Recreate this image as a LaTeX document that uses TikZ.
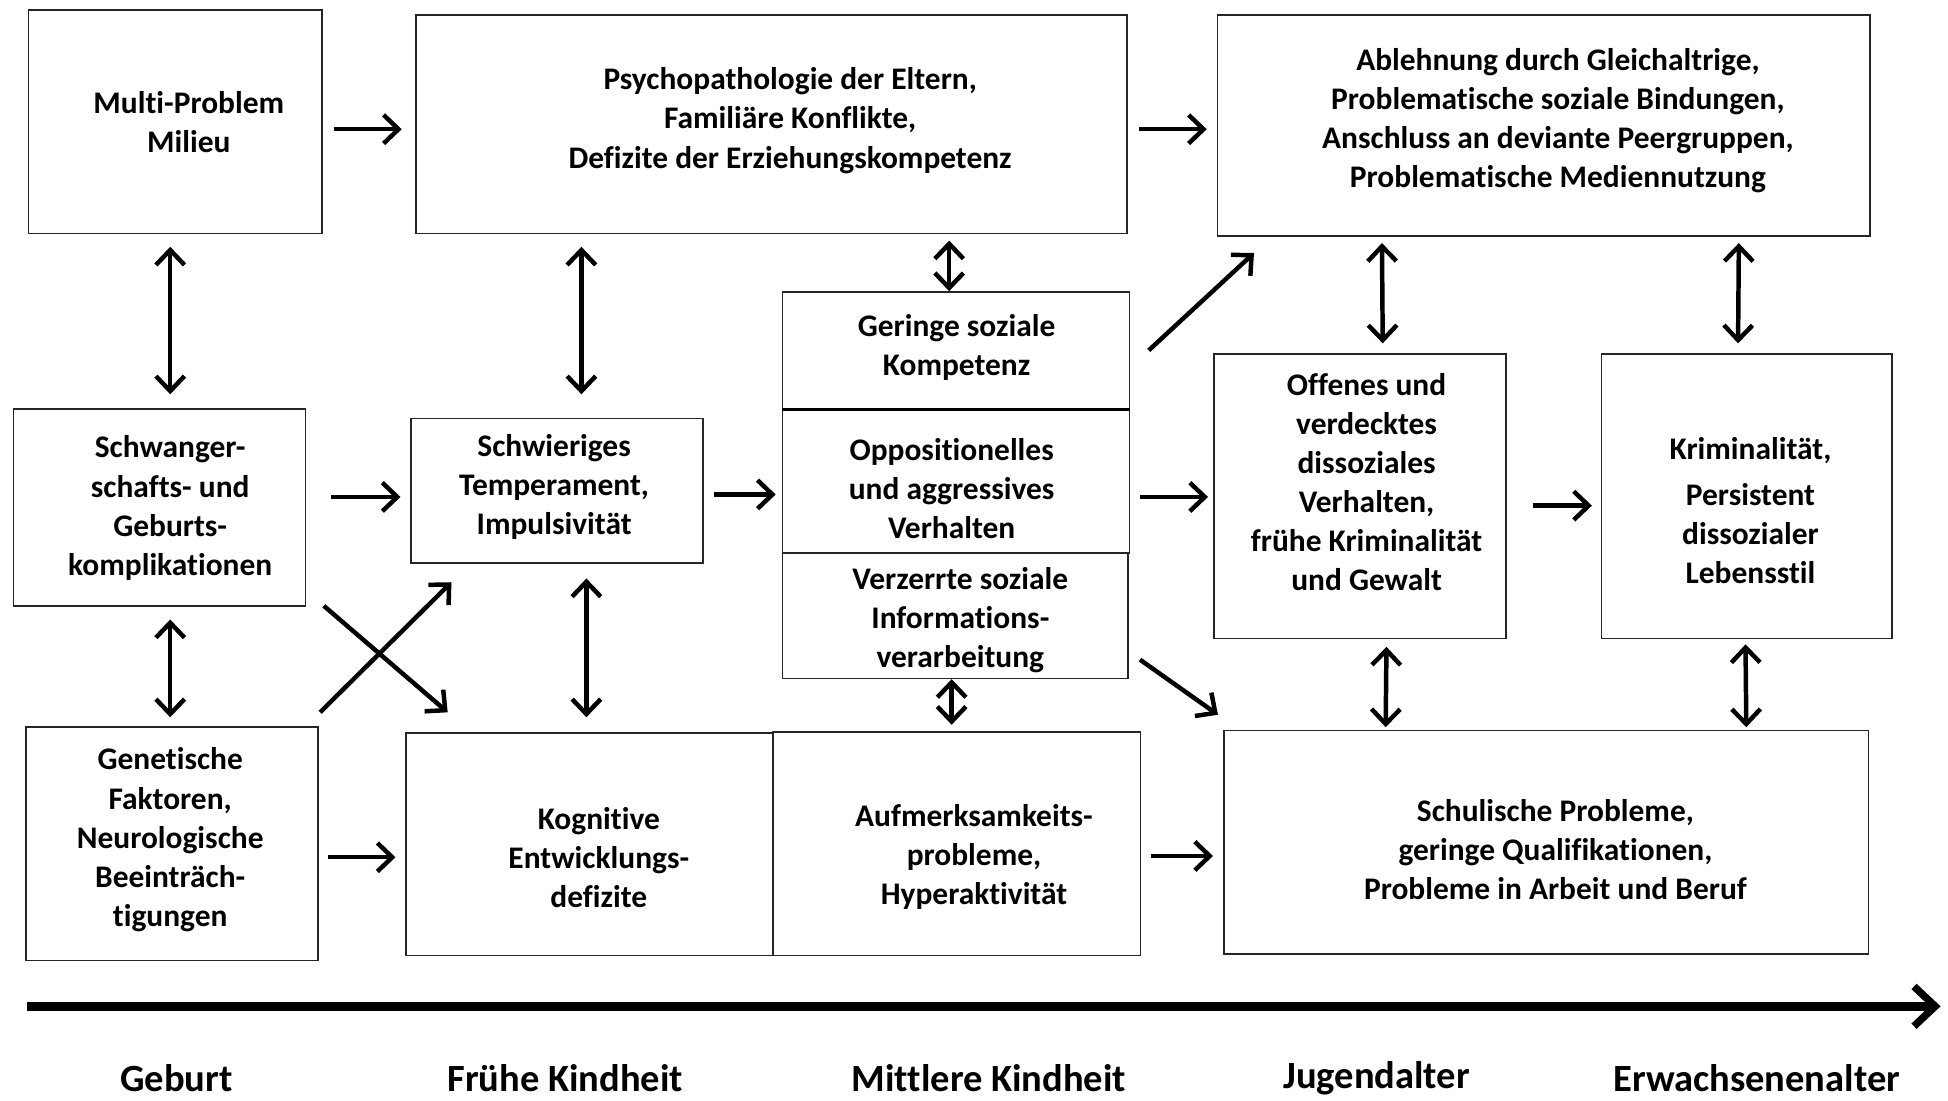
\documentclass[tikz,border=0pt]{standalone}
\usepackage{fontspec}
\setmainfont{Carlito}[Ligatures=NoCommon]
\usetikzlibrary{arrows.meta,calc}
\begin{document}
\begin{tikzpicture}[x=1pt,y=-1pt,
  box/.style={draw=black!85, line width=1.3pt, inner sep=0pt},
  txt/.style={align=center, inner sep=0pt, font=\fontsize{25.3}{31.5}\selectfont\bfseries},
  lab/.style={inner sep=0pt, font=\fontsize{31}{36}\selectfont\bfseries},
  tip/.tip={Straight Barb[length=12pt,width=23pt,line width=3.6pt]},
  arr/.style={line width=3.6pt, -tip},
  darr/.style={line width=3.6pt, tip-tip}
]
\useasboundingbox[fill=white] (0,0) rectangle (1568,886);

% boxes
\node[box, minimum width=236, minimum height=180] (A) at (141,98) {};
\node[box, minimum width=572, minimum height=176] (B) at (621,100) {};
\node[box, minimum width=525, minimum height=178] (C) at (1242.5,101) {};
\node[box, minimum width=235, minimum height=159] (D) at (128.5,408.5) {};
\node[box, minimum width=235, minimum height=116] (E) at (448.5,395) {};
\node[box, minimum width=279, minimum height=94] (F) at (769.5,282) {};
\node[box, minimum width=279, minimum height=116] (G) at (769.5,387) {};
\node[box, minimum width=278, minimum height=101] (H) at (769,495.5) {};
\node[box, minimum width=235, minimum height=229] (I) at (1094.5,399.5) {};
\node[box, minimum width=234, minimum height=229] (J) at (1406,399.5) {};
\node[box, minimum width=235, minimum height=188] (K) at (138.5,679) {};
\node[box, minimum width=295, minimum height=179] (L) at (474.5,679.5) {};
\node[box, minimum width=296, minimum height=180] (M) at (770,679) {};
\node[box, minimum width=519, minimum height=180] (N) at (1244.5,678) {};
\draw[line width=2.6pt] (F.south west) -- (F.south east);

% texts
\node[txt] (tA) at (152,98) {Multi-Problem\\Milieu};
\node[txt] (tB) at (636,97) {Psychopathologie der Eltern,\\Familiäre Konflikte,\\Defizite der Erziehungskompetenz};
\node[txt] (tC) at (1254,97) {Ablehnung durch Gleichaltrige,\\Problematische soziale Bindungen,\\Anschluss an deviante Peergruppen,\\Problematische Mediennutzung};
\node[txt] (tD) at (137,409) {Schwanger-\\schafts- und\\Geburts-\\komplikationen};
\node[txt] (tE) at (446,392) {Schwieriges\\Temperament,\\Impulsivität};
\node[txt] (tF) at (770,280) {Geringe soziale\\Kompetenz};
\node[txt] (tG) at (766,393) {Oppositionelles\\und aggressives\\Verhalten};
\node[txt] (tH) at (773,499) {Verzerrte soziale\\Informations-\\verarbeitung};
\node[txt] (tI) at (1100,388) {Offenes und\\verdecktes\\dissoziales\\Verhalten,\\frühe Kriminalität\\und Gewalt};
\node[txt] (tJ) at (1409,411) {Kriminalität,\\[5pt]Persistent\\dissozialer\\Lebensstil};
\node[txt] (tK) at (137,676) {Genetische\\Faktoren,\\Neurologische\\Beeinträch-\\tigungen};
\node[txt] (tL) at (482,690) {Kognitive\\Entwicklungs-\\defizite};
\node[txt] (tM) at (784,690) {Aufmerksamkeits-\\probleme,\\Hyperaktivität};
\node[txt] (tN) at (1252,684) {Schulische Probleme,\\geringe Qualifikationen,\\Probleme in Arbeit und Beruf};

% arrows
\draw[arr] ([shift={(9,6)}]A.east) -- ([shift={(-11,4)}]B.west);
\draw[arr] ([shift={(9,4)}]B.east) -- ([shift={(-8,3)}]C.west);
\draw[darr] ([shift={(-4,10)}]A.south) -- ([shift={(8.5,-11)}]D.north);
\draw[darr] ([shift={(-153,10)}]B.south) -- ([shift={(19.5,-19)}]E.north);
\draw[darr] ([shift={(143,5)}]B.south) -- ([shift={(-5.5,0)}]F.north);
\draw[arr] ([shift={(15,0)}]F.east) -- ([shift={(30,13)}]C.south west);
\draw[darr] ([shift={(133,5)}]C.south west) -- ([shift={(18.5,-8)}]I.north);
\draw[darr] ([shift={(-106,5)}]C.south east) -- ([shift={(-7,-8)}]J.north);
\draw[arr] ([shift={(20,-8.5)}]D.east) -- ([shift={(-8,5)}]E.west);
\draw[arr] ([shift={(8,3)}]E.east) -- ([shift={(-5,11)}]G.west);
\draw[arr] ([shift={(8,13)}]G.east) -- ([shift={(-4,0.5)}]I.west);
\draw[arr] ([shift={(21,7.5)}]I.east) -- ([shift={(-7,7.5)}]J.west);
\draw[darr] ([shift={(8.5,10)}]D.south) -- ([shift={(-1.5,-7)}]K.north);
\draw[darr] ([shift={(23.5,12)}]E.south) -- ([shift={(-2.5,-12)}]L.north);
\draw[arr] ([shift={(14,-1)}]D.south east) -- ([shift={(34,-16)}]L.north west);
\draw[arr] ([shift={(1,-11)}]K.north east) -- ([shift={(33,15)}]E.south west);
\draw[darr] ([shift={(-3,0)}]H.south) -- ([shift={(-4,-5)}]M.north);
\draw[arr] ([shift={(9,35.5)}]H.east) -- ([shift={(-4,-12)}]N.north west);
\draw[darr] ([shift={(21.5,6)}]I.south) -- ([shift={(131,-2)}]N.north west);
\draw[darr] ([shift={(-1,4)}]J.south) -- ([shift={(-99,-2)}]N.north east);
\draw[arr] ([shift={(7,11)}]K.east) -- ([shift={(-8,10.5)}]L.west);
\draw[arr] ([shift={(8,10)}]M.east) -- ([shift={(-8,11)}]N.west);

% timeline
\coordinate (t0) at (22,810);
\coordinate (t1) at (1562,810);
\draw[line width=7pt, -{Straight Barb[length=17pt,width=32pt,line width=6pt]}] (t0) -- (t1);
\node[lab] (l1) at (142,868) {Geburt};
\node[lab] (l2) at (455,868) {Frühe Kindheit};
\node[lab] (l3) at (796,868) {Mittlere Kindheit};
\node[lab] (l4) at (1108,868) {Jugendalter};
\node[lab] (l5) at (1414,868) {Erwachsenenalter};
\end{tikzpicture}
\end{document}
